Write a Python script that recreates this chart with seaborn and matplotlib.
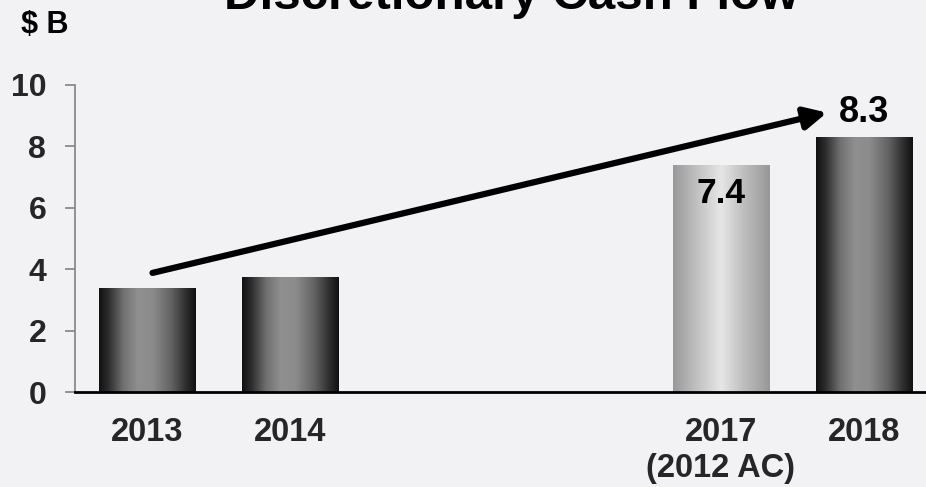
import numpy as np
import pandas as pd
import matplotlib
matplotlib.use("Agg")
import matplotlib.pyplot as plt
from matplotlib.colors import LinearSegmentedColormap
import seaborn as sns

# Discretionary cash flow, $ billions
years = [2013, 2014, 2017, 2018]
values = [3.4, 3.75, 7.4, 8.3]
tick_labels = ["2013", "2014", "2017\n(2012 AC)", "2018"]
labelled = {2017: "7.4", 2018: "8.3"}
trend_from = (2013.04, 3.88)
trend_to = (2017.74, 9.1)

BG = "#f2f2f5"
sns.set_theme(style="white")
plt.rcParams["font.family"] = ["Liberation Sans", "DejaVu Sans"]
plt.rcParams["font.weight"] = "bold"

fig = plt.figure(figsize=(9.26, 4.87), dpi=100, facecolor=BG)
ax = fig.add_axes([0.081, 0.195, 0.919, 0.6305], facecolor=BG)

df = pd.DataFrame({"year": years, "value": values})
sns.barplot(data=df, x="year", y="value", native_scale=True, width=0.67,
            color="#555555", ax=ax, linewidth=0, zorder=2)

dark = LinearSegmentedColormap.from_list(
    "dark_cyl",
    [(0.0, "#101010"), (0.1, "#2e2e2e"), (0.25, "#707070"), (0.4, "#8f8f8f"),
     (0.55, "#8c8c8c"), (0.75, "#626262"), (0.9, "#2e2e2e"), (1.0, "#101010")])
light = LinearSegmentedColormap.from_list(
    "light_cyl",
    [(0.0, "#989898"), (0.25, "#c2c2c2"), (0.5, "#e6e6e6"), (0.72, "#c0c0c0"),
     (1.0, "#979797")])

grad = np.linspace(0, 1, 256).reshape(1, -1)
for patch, yr in zip(ax.patches, years):
    x0, y0 = patch.get_x(), patch.get_y()
    w, h = patch.get_width(), patch.get_height()
    cmap = light if yr == 2017 else dark
    im = ax.imshow(grad, cmap=cmap, aspect="auto",
                   extent=[x0, x0 + w, y0, y0 + h], zorder=3)
    im.set_clip_path(patch)

ax.set_xlim(2012.5, 2018.43)
ax.set_ylim(0, 10)
ax.set_yticks(np.arange(0, 11, 2))
ax.set_xticks(years)
ax.set_xticklabels(tick_labels)
ax.set_xlabel("")
ax.set_ylabel("")

ax.tick_params(axis="y", length=7.2, width=1.3, color="#8a8a8a", pad=13.5,
               labelsize=23, left=True, direction="out")
ax.tick_params(axis="x", length=0, pad=18, labelsize=23.5)
for lab in ax.get_xticklabels() + ax.get_yticklabels():
    lab.set_fontweight("bold")

for side in ("top", "right"):
    ax.spines[side].set_visible(False)
ax.spines["left"].set_color("#8a8a8a")
ax.spines["left"].set_linewidth(1.3)
ax.spines["bottom"].set_color("black")
ax.spines["bottom"].set_linewidth(2)
ax.spines["bottom"].set_zorder(5)

# value labels
for patch, yr in zip(ax.patches, years):
    if yr not in labelled:
        continue
    cx = patch.get_x() + patch.get_width() / 2
    top = patch.get_height()
    if yr == 2017:
        ax.text(cx, top - 0.92, labelled[yr], ha="center", va="center",
                fontsize=25.5, fontweight="bold", color="black", zorder=6)
    else:
        ax.text(cx, top + 0.8, labelled[yr], ha="center", va="center",
                fontsize=26, fontweight="bold", color="black", zorder=6,
                clip_on=False)

# growth arrow
ax.annotate("", xy=trend_to, xytext=trend_from,
            arrowprops=dict(arrowstyle="-|>,head_length=1.1,head_width=0.55",
                            lw=4.5, color="black", shrinkA=0, shrinkB=0),
            zorder=7, annotation_clip=False)

fig.text(511 / 926, 1 - 9 / 487, "Discretionary Cash Flow", ha="center",
         va="baseline", fontsize=35.5, fontweight="bold", color="black")
fig.text(21 / 926, 1 - 33 / 487, "$ B", ha="left", va="baseline",
         fontsize=22, fontweight="bold", color="black")

fig.savefig("out.png", dpi=100, facecolor=BG)
